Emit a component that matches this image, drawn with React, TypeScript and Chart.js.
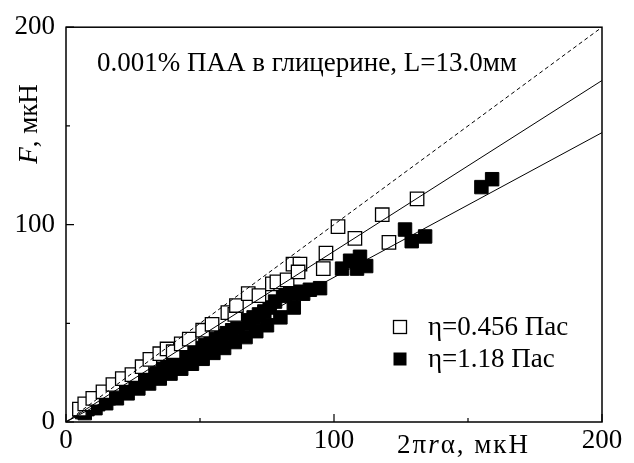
import React, { useEffect, useRef } from "react";
import { Chart, registerables } from "chart.js";
Chart.register(...registerables);

// ---- data ----
const openX = [5, 7, 10, 13.8, 17.5, 21, 24.6, 28.4, 31.3, 35, 37.7, 40, 43, 46, 51, 54.5, 60.4, 63, 63.6, 68, 72, 77, 78.7, 82.5, 84.7, 87.3, 86.6, 96, 97, 101.5, 107.8, 118, 120.5, 131];
const openY = [6.5, 9.2, 12, 15.3, 19, 22, 24, 28, 31.7, 34.6, 37, 35.6, 39.6, 42, 46.5, 49.5, 55.4, 54.5, 59, 65, 64, 70, 71, 72, 80, 80, 76, 77.7, 85.6, 99, 93, 105, 91, 113];

const filledX = [6, 8, 10, 12, 14, 16, 18, 20, 22, 24, 26, 28, 30, 32, 34, 36, 38, 40, 42, 44, 46, 48, 50, 52, 54, 56, 58, 60, 62, 64, 66, 68, 70, 72, 74, 76, 78, 81, 84, 86, 88.5, 91, 94.8,
  7, 11, 15, 19, 23, 27, 31, 35, 39, 43, 47, 51, 55, 59, 63, 67, 71, 75, 80, 85,
  103, 106, 108.6, 109.7, 112, 126.5, 129, 134, 155, 159];
const filledY = [5, 6.5, 7.5, 9, 10.5, 12, 13.5, 15, 16.5, 18, 19.5, 21, 22.5, 24, 25.5, 27, 28.5, 30, 31.5, 33, 34.5, 36, 37.5, 39, 40.5, 42, 43.5, 45, 46.5, 48, 50, 51.5, 53, 54.5, 56, 58, 61, 64, 65, 66, 65, 67, 67.8,
  4.5, 7, 9.5, 12, 14.5, 17, 19.5, 22, 24.5, 27, 29.5, 32, 35, 37.5, 40.5, 43, 46, 49, 53, 58,
  77.7, 81.7, 77.7, 83.7, 79, 97.5, 91.6, 94, 119, 123];

const seriesLabels = ["η=0.456 Пас", "η=1.18 Пас"];
const fitSlopes = [1.0, 0.865, 0.733];
const fitDashed = [true, false, false];
const axisMin = 0;
const axisMax = 200;
const majorTicks = [0, 100, 200];
const minorTicks = [50, 150];
const annotationText = "0.001% ПАА в глицерине, L=13.0мм";

const FONT = "'Liberation Serif', 'Times New Roman', Times, serif";
const FS = 27;

const toPoints = (xs: number[], ys: number[]) => xs.map((x, i) => ({ x, y: ys[i] }));

const framePlugin = {
  id: "framePlugin",
  afterDraw(chart: any) {
    const { ctx, chartArea } = chart;
    const { left, right, top, bottom } = chartArea;
    const xs = chart.scales.x;
    const ys = chart.scales.y;
    ctx.save();
    ctx.strokeStyle = "#000";
    ctx.lineWidth = 1.5;
    ctx.strokeRect(left, top, right - left, bottom - top);
    ctx.lineWidth = 1.2;
    ctx.beginPath();
    majorTicks.forEach((v) => {
      const px = xs.getPixelForValue(v);
      ctx.moveTo(px, bottom);
      ctx.lineTo(px, bottom - 8);
      const py = ys.getPixelForValue(v);
      ctx.moveTo(left, py);
      ctx.lineTo(left + 8, py);
    });
    minorTicks.forEach((v) => {
      const px = xs.getPixelForValue(v);
      ctx.moveTo(px, bottom);
      ctx.lineTo(px, bottom - 4);
      const py = ys.getPixelForValue(v);
      ctx.moveTo(left, py);
      ctx.lineTo(left + 4, py);
    });
    ctx.stroke();

    // annotation
    ctx.fillStyle = "#000";
    ctx.textBaseline = "alphabetic";
    ctx.textAlign = "left";
    ctx.font = `${FS}px ${FONT}`;
    ctx.fillText(annotationText, left + 31, top + 44);

    // y title: "F, мкН" rotated
    ctx.save();
    ctx.translate(37, 124);
    ctx.rotate(-Math.PI / 2);
    ctx.font = `italic ${FS}px ${FONT}`;
    const fW = ctx.measureText("F").width;
    ctx.font = `${FS}px ${FONT}`;
    const restW = ctx.measureText(", мкН").width;
    const total = fW + restW;
    ctx.font = `italic ${FS}px ${FONT}`;
    ctx.fillText("F", -total / 2, 0);
    ctx.font = `${FS}px ${FONT}`;
    ctx.fillText(", мкН", -total / 2 + fW, 0);
    ctx.restore();

    // x title: "2πrα, мкН"
    ctx.save();
    try { (ctx as any).letterSpacing = "2px"; } catch (e) {}
    let x0 = 397;
    const yb = 453;
    ctx.font = `${FS}px ${FONT}`;
    ctx.fillText("2π", x0, yb);
    x0 += ctx.measureText("2π").width;
    ctx.font = `italic ${FS}px ${FONT}`;
    ctx.fillText("r", x0, yb);
    x0 += ctx.measureText("r").width;
    ctx.font = `${FS}px ${FONT}`;
    ctx.fillText("α, мкН", x0, yb);
    ctx.restore();

    // legend
    const lx = 400;
    const rows = [327, 359];
    ctx.font = `${FS}px ${FONT}`;
    ctx.textBaseline = "middle";
    rows.forEach((ry, i) => {
      const s = 13;
      if (i === 0) {
        ctx.fillStyle = "#fff";
        ctx.fillRect(lx - s / 2, ry - s / 2, s, s);
        ctx.strokeStyle = "#000";
        ctx.lineWidth = 1.3;
        ctx.strokeRect(lx - s / 2, ry - s / 2, s, s);
      } else {
        ctx.fillStyle = "#000";
        ctx.fillRect(lx - s / 2, ry - s / 2, s, s);
      }
      ctx.fillStyle = "#000";
      ctx.fillText(seriesLabels[i], 428, ry + 1);
    });
    ctx.restore();
  },
};

export default function App() {
  const ref = useRef<HTMLCanvasElement | null>(null);
  useEffect(() => {
    document.body.style.margin = "0";
    const canvas = ref.current!;
    const lineSets = fitSlopes.map((k, i) => ({
      type: "line" as const,
      label: "fit" + i,
      data: [
        { x: axisMin, y: axisMin * k },
        { x: axisMax, y: axisMax * k },
      ],
      borderColor: "#000",
      borderWidth: 1,
      borderDash: fitDashed[i] ? [4, 3] : [],
      pointRadius: 0,
      fill: false,
      order: 0,
    }));
    const chart = new Chart(canvas, {
      type: "scatter",
      data: {
        datasets: [
          ...lineSets,
          {
            label: seriesLabels[0],
            data: toPoints(openX, openY),
            pointStyle: "rect",
            pointRadius: 9.5,
            pointBackgroundColor: "#fff",
            pointBorderColor: "#000",
            pointBorderWidth: 1.3,
            order: 1,
          },
          {
            label: seriesLabels[1],
            data: toPoints(filledX, filledY),
            pointStyle: "rect",
            pointRadius: 9.5,
            pointBackgroundColor: "#000",
            pointBorderColor: "#000",
            pointBorderWidth: 1,
            order: 2,
          },
        ] as any,
      },
      options: {
        animation: false,
        responsive: false,
        devicePixelRatio: 1,
        layout: { padding: { left: 0, top: 18, right: 32, bottom: 0 } },
        plugins: { legend: { display: false }, tooltip: { enabled: false } },
        scales: {
          x: {
            type: "linear",
            min: axisMin,
            max: axisMax,
            grid: { display: false, drawTicks: false },
            border: { display: false },
            afterFit: (s: any) => { s.height = 41; },
            afterBuildTicks: (s: any) => { s.ticks = majorTicks.map((v) => ({ value: v })); },
            ticks: { font: { family: FONT, size: FS }, color: "#000", padding: 3, maxRotation: 0 },
          },
          y: {
            type: "linear",
            min: axisMin,
            max: axisMax,
            grid: { display: false, drawTicks: false },
            border: { display: false },
            afterFit: (s: any) => { s.width = 66; },
            afterBuildTicks: (s: any) => { s.ticks = majorTicks.map((v) => ({ value: v })); },
            ticks: { font: { family: FONT, size: FS }, color: "#000", padding: 11 },
          },
        },
      },
      plugins: [framePlugin],
    });
    return () => chart.destroy();
  }, []);
  return (
    <div style={{ width: 634, height: 463 }}>
      <canvas ref={ref} width={634} height={463} style={{ display: "block", width: 634, height: 463 }} />
    </div>
  );
}
